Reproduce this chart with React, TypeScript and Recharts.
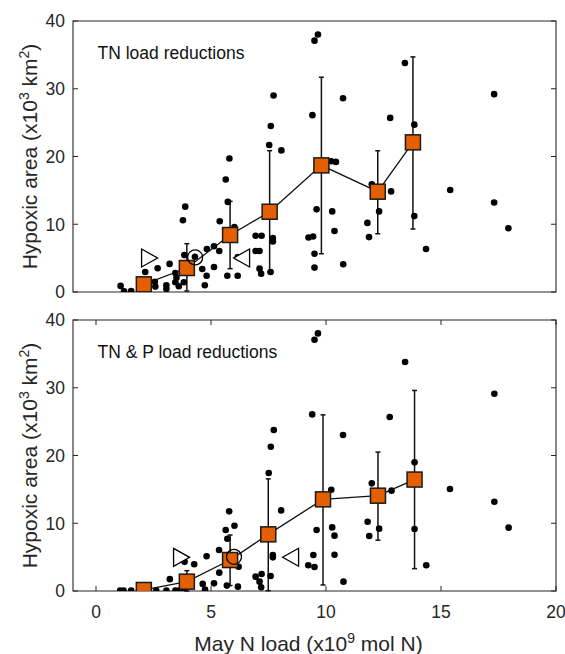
import React from 'react';
import { ComposedChart, Scatter, Line, XAxis, YAxis, ErrorBar, ReferenceArea, Label } from 'recharts';

// ---------- Data ----------
// Panel 1: TN load reductions – individual scenario points
const tnDotX = [1.07, 1.22, 1.53, 1.89, 2.14, 2.56, 2.58, 2.68, 3.2, 3.06, 3.06, 3.45, 3.5, 3.45, 3.6, 3.82, 3.78, 3.88, 3.84, 4.3, 4.62, 4.81, 4.73, 4.82, 5.13, 5.13, 5.36, 5.38, 5.64, 5.8, 5.73, 6.02, 5.71, 6.16, 6.16, 6.94, 7.2, 6.94, 7.11, 7.11, 7.18, 7.59, 7.69, 7.69, 7.53, 7.6, 7.72, 8.06, 9.24, 9.44, 9.41, 9.5, 9.65, 9.59, 9.5, 9.5, 10.27, 10.37, 10.75, 10.74, 10.23, 10.43, 11.8, 11.87, 11.99, 12.31, 12.79, 12.83, 13.43, 13.84, 13.84, 14.35, 15.4, 17.31, 17.31, 17.93];
const tnDotY = [0.9, 0.1, 0.15, 0.1, 2.95, 1.5, 0.8, 3.5, 4.15, 1.0, 0.45, 2.8, 2.1, 1.45, 0.85, 1.45, 10.6, 12.6, 5.45, 5.2, 3.4, 2.4, 1.0, 6.35, 6.75, 3.7, 6.05, 10.45, 16.6, 19.7, 13.3, 9.6, 2.4, 2.4, 5.15, 8.3, 8.3, 6.05, 6.05, 3.45, 2.7, 2.95, 7.95, 7.45, 21.7, 24.5, 29.0, 20.9, 8.05, 8.2, 26.1, 37.1, 38.0, 12.2, 5.65, 3.6, 11.9, 9.0, 4.1, 28.6, 19.3, 19.2, 10.2, 8.1, 15.9, 11.9, 25.7, 14.85, 33.8, 24.7, 11.2, 6.35, 15.05, 29.2, 13.2, 9.4];

// Panel 1: binned means and ranges
const tnBinX = [2.08, 3.95, 5.83, 7.55, 9.8, 12.25, 13.78];
const tnBinMean = [1.13, 3.54, 8.41, 11.85, 18.69, 14.81, 22.09];
const tnBinLow = [1.13, 0.15, 3.44, 2.95, 5.65, 8.6, 9.3];
const tnBinHigh = [1.13, 7.13, 13.38, 20.86, 31.7, 20.85, 34.7];

// Panel 2: TN & P load reductions – individual scenario points
const tnpDotX = [1.05, 1.2, 1.53, 2.62, 3.06, 3.45, 3.6, 3.79, 3.21, 3.85, 4.27, 4.64, 4.74, 4.81, 5.13, 5.35, 5.36, 5.64, 5.79, 5.71, 6.02, 5.69, 6.17, 6.2, 6.94, 7.2, 7.11, 7.18, 7.59, 7.69, 7.69, 7.51, 7.6, 7.73, 8.05, 9.23, 9.45, 9.5, 9.4, 9.5, 9.65, 9.59, 10.23, 10.27, 10.37, 10.37, 10.76, 10.74, 11.81, 11.88, 11.99, 12.31, 12.77, 12.85, 13.44, 13.85, 13.85, 14.36, 15.39, 17.32, 17.32, 17.94];
const tnpDotY = [0.05, 0.05, 0.05, 0.05, 0.05, 0.05, 0.05, 0.15, 1.75, 4.3, 3.95, 1.05, 0.2, 5.12, 1.13, 6.05, 2.71, 9.0, 11.76, 7.72, 9.64, 0.8, 0.64, 3.59, 2.12, 2.51, 1.38, 0.54, 2.21, 5.31, 4.97, 17.41, 21.3, 23.76, 11.9, 3.79, 5.31, 3.54, 26.07, 37.09, 38.02, 9.0, 14.95, 9.39, 8.17, 5.36, 1.38, 23.02, 10.23, 8.12, 15.89, 9.2, 25.68, 14.81, 33.79, 18.99, 9.15, 3.79, 15.05, 29.12, 13.18, 9.35];

// Panel 2: binned means and ranges
const tnpBinX = [2.08, 3.95, 5.83, 7.49, 9.87, 12.26, 13.85];
const tnpBinMean = [0.15, 1.38, 4.57, 8.36, 13.53, 14.07, 16.45];
const tnpBinLow = [0.15, 0.0, 0.8, 0.05, 0.89, 7.5, 3.3];
const tnpBinHigh = [0.15, 3.0, 8.26, 16.55, 26.0, 20.5, 29.6];

// Open markers (right triangle, circle, left triangle)
const markerKinds = ['right', 'circle', 'left'];
const tnMarkerX = [2.33, 4.31, 6.33];
const tnMarkerY = [5.02, 5.1, 5.02];
const tnpMarkerX = [3.72, 6.0, 8.46];
const tnpMarkerY = [4.97, 5.05, 4.98];

// Axes
const xDomain = [-1, 20];
const yDomain = [0, 40];
const xTicks = [0, 5, 10, 15, 20];
const yTicks = [0, 10, 20, 30, 40];

// ---------- Styling ----------
const FONT = '"Liberation Sans", Arial, Helvetica, sans-serif';
const AX = '#262626';
const ORANGE = '#E35F00';
const PW = 483; // plot width
const PH = 271; // plot height

const toPoints = (xs: number[], ys: number[]) => xs.map((x, i) => ({ x, y: ys[i] }));
const toBins = (xs: number[], m: number[], lo: number[], hi: number[]) =>
  xs.map((x, i) => ({ x, y: m[i], err: [m[i] - lo[i], hi[i] - m[i]] }));
const toMarkers = (xs: number[], ys: number[]) => xs.map((x, i) => ({ x, y: ys[i], kind: markerKinds[i] }));

const XTick = (props: any) => {
  const { x, y, payload, showLabel } = props;
  const ay = y;
  return (
    <g>
      <line x1={x} x2={x} y1={ay} y2={ay - 5} stroke={AX} strokeWidth={1} />
      <line x1={x} x2={x} y1={ay - PH} y2={ay - PH + 5} stroke={AX} strokeWidth={1} />
      {showLabel && (
        <text x={x} y={ay + 26.5} textAnchor="middle" fontFamily={FONT} fontSize={17.5} fill={AX}>
          {payload.value}
        </text>
      )}
    </g>
  );
};

const YTick = (props: any) => {
  const { x, y, payload } = props;
  const ax = x;
  return (
    <g>
      <line x1={ax} x2={ax + 5} y1={y} y2={y} stroke={AX} strokeWidth={1} />
      <line x1={ax + PW} x2={ax + PW - 5} y1={y} y2={y} stroke={AX} strokeWidth={1} />
      <text x={ax - 8} y={y} dy="0.36em" textAnchor="end" fontFamily={FONT} fontSize={17.5} fill={AX}>
        {payload.value}
      </text>
    </g>
  );
};

const renderDot = (p: any) => <circle cx={p.cx} cy={p.cy} r={3.3} fill="#000" />;

const renderSquare = (p: any) => (
  <rect key={`sq-${p.index}`} x={p.cx - 7.5} y={p.cy - 7.5} width={15} height={15} fill={ORANGE} stroke="#1a1a1a" strokeWidth={1.5} />
);

const renderMarker = (p: any) => {
  const { cx, cy } = p;
  const kind = p.payload ? p.payload.kind : p.kind;
  if (kind === 'circle') {
    return <circle cx={cx} cy={cy} r={7.5} fill="none" stroke="#000" strokeWidth={1.3} />;
  }
  const pts =
    kind === 'right'
      ? `${cx - 8},${cy - 9} ${cx + 8},${cy} ${cx - 8},${cy + 9}`
      : `${cx + 8},${cy - 9} ${cx - 8},${cy} ${cx + 8},${cy + 9}`;
  return <polygon points={pts} fill="#fff" stroke="#000" strokeWidth={1.3} />;
};

const YLabel = (props: any) => {
  const vb = props.viewBox || {};
  const cx = vb.x + 24;
  const cy = vb.y + vb.height / 2;
  return (
    <text x={cx} y={cy} transform={`rotate(-90, ${cx}, ${cy})`} textAnchor="middle" fontFamily={FONT} fontSize={21} fill={AX}>
      Hypoxic area (x10
      <tspan dy={-8} fontSize={14}>3</tspan>
      <tspan dy={8}> km</tspan>
      <tspan dy={-8} fontSize={14}>2</tspan>
      <tspan dy={8}>)</tspan>
    </text>
  );
};

const XLabel = (props: any) => {
  const vb = props.viewBox || {};
  const cx = vb.x + vb.width / 2 - 6;
  const y = vb.y + 60;
  return (
    <text x={cx} y={y} textAnchor="middle" fontFamily={FONT} fontSize={21} fill={AX}>
      May N load (x10
      <tspan dy={-8} fontSize={14}>9</tspan>
      <tspan dy={8}> mol N)</tspan>
    </text>
  );
};

const Panel = (props: any) => {
  const { height, margin, title, dots, bins, markers, showXLabels, xAxisHeight } = props;
  return (
    <ComposedChart width={565} height={height} margin={margin} style={{ overflow: 'visible' }}>
      <XAxis
        xAxisId="b"
        dataKey="x"
        type="number"
        domain={xDomain}
        ticks={xTicks}
        interval={0}
        allowDataOverflow
        axisLine={false}
        tickLine={false}
        tickSize={0}
        tickMargin={0}
        height={xAxisHeight}
        tick={(p: any) => <XTick {...p} showLabel={showXLabels} />}
      >
        {showXLabels && <Label content={XLabel} />}
      </XAxis>
      <YAxis
        yAxisId="l"
        dataKey="y"
        type="number"
        domain={yDomain}
        ticks={yTicks}
        interval={0}
        allowDataOverflow
        axisLine={false}
        tickLine={false}
        tickSize={0}
        tickMargin={0}
        width={60}
        tick={(p: any) => <YTick {...p} />}
      >
        <Label content={YLabel} />
      </YAxis>
      <ReferenceArea
        xAxisId="b"
        yAxisId="l"
        x1={xDomain[0]}
        x2={xDomain[1]}
        y1={yDomain[0]}
        y2={yDomain[1]}
        fill="none"
        fillOpacity={0}
        stroke={AX}
        strokeWidth={1.1}
        ifOverflow="visible"
        label={(lp: any) => {
          const vb = lp.viewBox || {};
          return (
            <text x={vb.x + 24.5} y={vb.y + 38} fontFamily={FONT} fontSize={17.5} fill="#111">
              {title}
            </text>
          );
        }}
      />
      <Scatter xAxisId="b" yAxisId="l" data={dots} dataKey="y" shape={renderDot} isAnimationActive={false} />
      <Line
        xAxisId="b"
        yAxisId="l"
        data={bins}
        dataKey="y"
        type="linear"
        stroke="#111"
        strokeWidth={1.3}
        dot={renderSquare}
        activeDot={false}
        isAnimationActive={false}
      >
        <ErrorBar dataKey="err" direction="y" width={2.5} stroke="#111" strokeWidth={1.5} />
      </Line>
      <Scatter xAxisId="b" yAxisId="l" data={markers} dataKey="y" shape={renderMarker} isAnimationActive={false} />
    </ComposedChart>
  );
};

export default function App() {
  return (
    <div style={{ position: 'absolute', left: 0, top: 0, width: 565, height: 654, background: '#fff', overflow: 'hidden' }}>
      <div style={{ position: 'absolute', left: 0, top: 0 }}>
        <Panel
          height={312}
          margin={{ top: 21, right: 9, bottom: 20, left: 13 }}
          xAxisHeight={0}
          showXLabels={false}
          title="TN load reductions"
          dots={toPoints(tnDotX, tnDotY)}
          bins={toBins(tnBinX, tnBinMean, tnBinLow, tnBinHigh)}
          markers={toMarkers(tnMarkerX, tnMarkerY)}
        />
      </div>
      <div style={{ position: 'absolute', left: 0, top: 300 }}>
        <Panel
          height={354}
          margin={{ top: 20, right: 9, bottom: 0, left: 13 }}
          xAxisHeight={63}
          showXLabels={true}
          title="TN & P load reductions"
          dots={toPoints(tnpDotX, tnpDotY)}
          bins={toBins(tnpBinX, tnpBinMean, tnpBinLow, tnpBinHigh)}
          markers={toMarkers(tnpMarkerX, tnpMarkerY)}
        />
      </div>
    </div>
  );
}
